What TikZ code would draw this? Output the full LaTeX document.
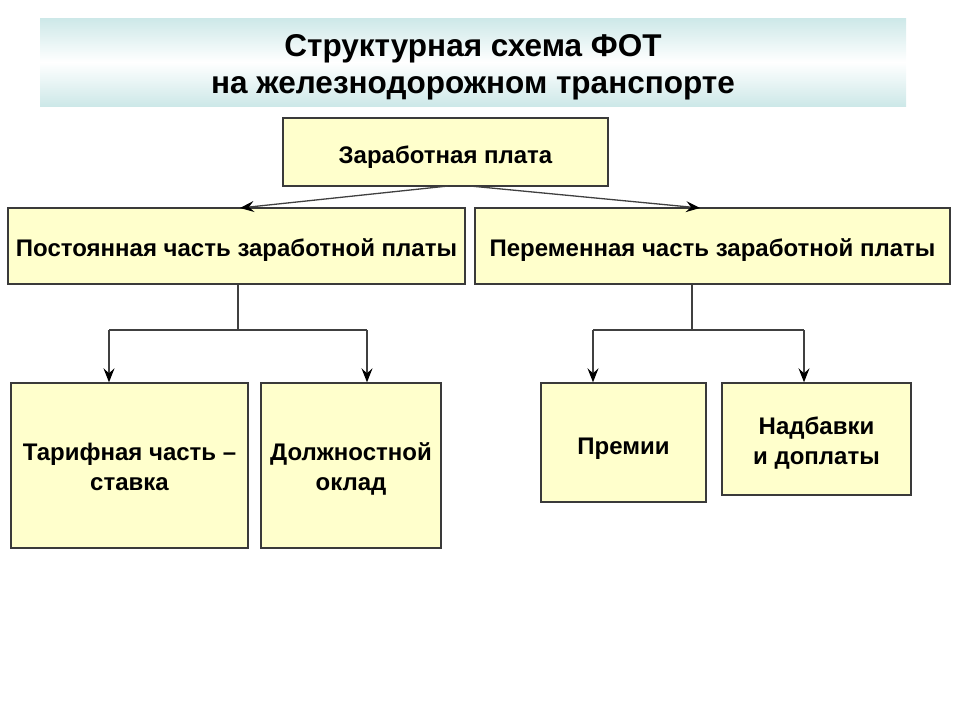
\documentclass[tikz,border=0pt]{standalone}
\usepackage{fontspec}
\setmainfont{Liberation Sans}
\usetikzlibrary{arrows.meta}
\definecolor{boxfill}{HTML}{FFFFCC}
\definecolor{boxline}{HTML}{3A3A3A}
\definecolor{titleedge}{HTML}{CDE8E8}
\newcommand\boxtext[2][4pt]{\raisebox{-#1}[\height][\depth]{\begin{tabular}{@{}c@{}}#2\end{tabular}}}
\tikzset{
  box/.style={draw=boxline, line width=1.4pt, fill=boxfill, inner sep=0pt, align=center,
    font=\bfseries\fontsize{24}{30}\selectfont},
  conn/.style={draw=black!75, line width=1.3pt},
  arr/.style={conn, -{Stealth[length=14pt,width=11pt,inset=5pt,black]}},
}
\begin{document}
\begin{tikzpicture}[x=1pt,y=-1pt]
\useasboundingbox (0,0) rectangle (960,720);
% title
\shade[top color=titleedge, bottom color=titleedge, middle color=white] (40,18) rectangle (906,106);
\node[font=\bfseries\fontsize{31.5}{37}\selectfont, align=center] (title) at (473,67)
  {Структурная схема ФОТ\\ на железнодорожном транспорте};
% boxes
\node[box, minimum width=325pt, minimum height=68pt] (zp) at (445.5,152) {\boxtext[5pt]{Заработная плата}};
\node[box, minimum width=457pt, minimum height=76pt] (post) at (236.5,246) {\boxtext{Постоянная часть заработной платы}};
\node[box, minimum width=475pt, minimum height=76pt] (per) at (712.5,246) {\boxtext{Переменная часть заработной платы}};
\node[box, minimum width=237pt, minimum height=165pt] (tar) at (129.5,465.5) {\boxtext{Тарифная часть –\\ставка}};
\node[box, minimum width=180pt, minimum height=165pt] (dol) at (351,465.5) {\boxtext{Должностной\\оклад}};
\node[box, minimum width=165pt, minimum height=119pt] (prem) at (623.5,442.5) {\boxtext[5.5pt]{Премии}};
\node[box, minimum width=189pt, minimum height=112pt] (nad) at (816.5,439) {\boxtext{Надбавки\\и доплаты}};
% connectors
\coordinate (zl) at (448,186);
\coordinate (zr) at (470,186);
\coordinate (postin) at (240,208);
\coordinate (perin) at (700,208);
\draw[arr] (zl) -- (postin);
\draw[arr] (zr) -- (perin);
% left tree
\coordinate (lj) at (238,330);
\coordinate (la) at (109,330);
\coordinate (lb) at (367,330);
\draw[conn] (post.south -| lj) -- (lj);
\draw[conn] (la) -- (lb);
\draw[arr] (la) -- (tar.north -| la);
\draw[arr] (lb) -- (dol.north -| lb);
% right tree
\coordinate (rj) at (692,330);
\coordinate (ra) at (593,330);
\coordinate (rb) at (804,330);
\draw[conn] (per.south -| rj) -- (rj);
\draw[conn] (ra) -- (rb);
\draw[arr] (ra) -- (prem.north -| ra);
\draw[arr] (rb) -- (nad.north -| rb);
\end{tikzpicture}
\end{document}
